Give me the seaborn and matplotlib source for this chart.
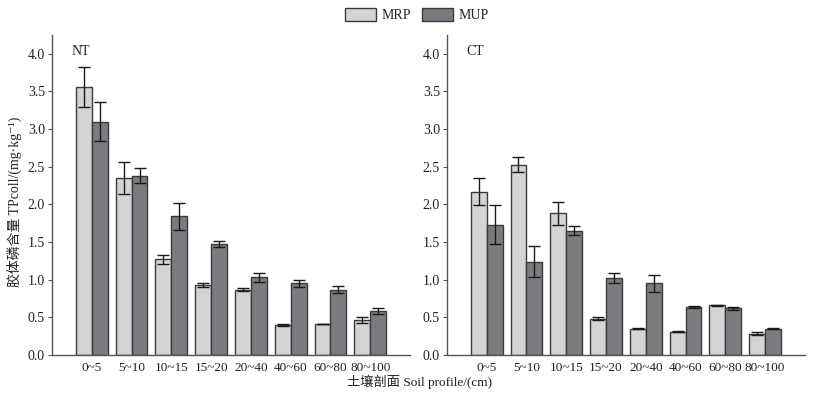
#!/usr/bin/env python3
"""Colloidal P in soil profile under NT / CT: MRP vs MUP grouped bars."""

import matplotlib

matplotlib.use("Agg")
import matplotlib.pyplot as plt
import pandas as pd
import seaborn as sns
from matplotlib.patches import Patch

depths = ["0~5", "5~10", "10~15", "15~20", "20~40", "40~60", "60~80", "80~100"]

nt_mrp = [3.56, 2.35, 1.27, 0.93, 0.87, 0.40, 0.41, 0.46]
nt_mrp_err = [0.26, 0.21, 0.06, 0.02, 0.02, 0.01, 0.00, 0.04]
nt_mup = [3.10, 2.38, 1.84, 1.48, 1.03, 0.95, 0.87, 0.58]
nt_mup_err = [0.26, 0.10, 0.18, 0.04, 0.06, 0.04, 0.05, 0.04]

ct_mrp = [2.17, 2.53, 1.88, 0.48, 0.35, 0.31, 0.66, 0.28]
ct_mrp_err = [0.18, 0.10, 0.15, 0.02, 0.005, 0.01, 0.01, 0.02]
ct_mup = [1.73, 1.24, 1.65, 1.02, 0.95, 0.64, 0.62, 0.35]
ct_mup_err = [0.26, 0.21, 0.06, 0.07, 0.11, 0.01, 0.02, 0.01]

COLORS = {"MRP": "#d4d4d4", "MUP": "#7b7a80"}
EDGE = "#3a3a3a"
FONTS = ["Liberation Serif", "Noto Sans CJK SC", "DejaVu Sans"]

sns.set_theme(style="white")
plt.rcParams["font.family"] = FONTS
plt.rcParams["axes.unicode_minus"] = False


def make_frame(mrp, mup):
    return pd.DataFrame(
        {
            "depth": depths * 2,
            "kind": ["MRP"] * len(depths) + ["MUP"] * len(depths),
            "value": list(mrp) + list(mup),
        }
    )


def draw_panel(ax, mrp, mrp_err, mup, mup_err, tag):
    df = make_frame(mrp, mup)
    sns.barplot(
        data=df, x="depth", y="value", hue="kind", order=depths,
        hue_order=["MRP", "MUP"], palette=COLORS, errorbar=None,
        width=0.8, gap=0, edgecolor=EDGE, linewidth=1.0, legend=False, ax=ax,
    )
    for cont, vals, errs in zip(ax.containers, [mrp, mup], [mrp_err, mup_err]):
        xs = [p.get_x() + p.get_width() / 2 for p in cont.patches]
        ax.errorbar(xs, vals, yerr=errs, fmt="none", ecolor="#1a1a1a",
                    elinewidth=1.0, capsize=4, capthick=1.0)

    ax.set_xlim(-1, 8)
    ax.set_ylim(0, 4.25)
    ax.set_yticks([0, 0.5, 1.0, 1.5, 2.0, 2.5, 3.0, 3.5, 4.0])
    ax.set_yticklabels([f"{v:.1f}" for v in ax.get_yticks()])
    ax.set_xlabel("")
    ax.set_ylabel("")
    for side in ["top", "right"]:
        ax.spines[side].set_visible(False)
    for side in ["left", "bottom"]:
        ax.spines[side].set_color("#555555")
        ax.spines[side].set_linewidth(1.0)
    ax.tick_params(axis="y", left=True, length=3, width=0.8, color="#555555",
                   labelsize=10, labelcolor="#222222", pad=2)
    ax.tick_params(axis="x", bottom=False, labelsize=9.5, labelcolor="#222222", pad=-1)
    ax.text(0.055, 0.947, tag, transform=ax.transAxes, ha="left", va="center",
            fontsize=10, color="#222222")


fig = plt.figure(figsize=(8.14, 3.98), dpi=100)
ax_nt = fig.add_axes([0.0639, 0.108, 0.4398, 0.804])
ax_ct = fig.add_axes([0.549, 0.108, 0.4398, 0.804])

draw_panel(ax_nt, nt_mrp, nt_mrp_err, nt_mup, nt_mup_err, "NT")
draw_panel(ax_ct, ct_mrp, ct_mrp_err, ct_mup, ct_mup_err, "CT")

ax_nt.set_ylabel("胶体磷含量 TPcoll/(mg·kg⁻¹)", fontsize=10, color="#222222")
ax_nt.yaxis.set_label_coords(-0.085, 0.48)
fig.text(0.516, 0.04, "土壤剖面 Soil profile/(cm)", ha="center", va="center",
         fontsize=9.5, color="#222222")

handles = [Patch(facecolor=COLORS[k], edgecolor=EDGE, linewidth=1.0, label=k)
           for k in ["MRP", "MUP"]]
fig.legend(handles=handles, loc="center", bbox_to_anchor=(0.512, 0.962), ncol=2,
           frameon=False, fontsize=10, handlelength=2.2, handleheight=1.1,
           columnspacing=0.8, handletextpad=0.4)

fig.savefig("out.png", dpi=100)
plt.close(fig)
